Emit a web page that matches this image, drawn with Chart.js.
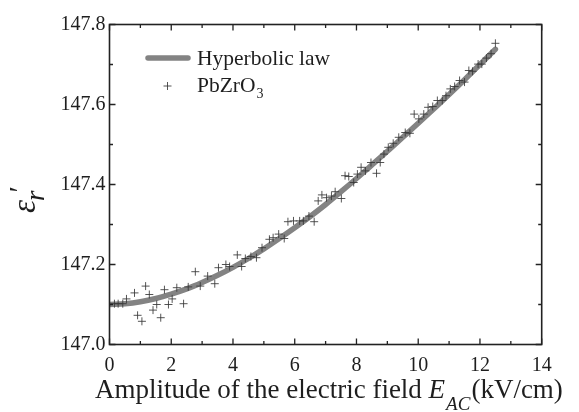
<!DOCTYPE html>
<html>
<head>
<meta charset="utf-8">
<script src="https://cdn.jsdelivr.net/npm/chart.js@4"></script>
<style>
  html, body { margin: 0; padding: 0; background: #fff; }
  #wrap { width: 579px; height: 412px; }
</style>
</head>
<body>
<div id="wrap"><canvas id="permChart" width="579" height="412"></canvas></div>
<script>
// fitted curve (hyperbolic law)
var fitField = [0, 0.5, 1, 1.5, 2, 2.5, 3, 3.5, 4, 4.5, 5, 5.5, 6, 6.5, 7, 7.5, 8, 8.5, 9, 9.5, 10, 10.5, 11, 11.5, 12, 12.5];
var fitEps = [147.100, 147.102, 147.107, 147.115, 147.126, 147.139, 147.155, 147.173, 147.193, 147.215, 147.239, 147.265, 147.292,
              147.320, 147.350, 147.382, 147.415, 147.449, 147.483, 147.518, 147.553, 147.589, 147.625, 147.662, 147.700, 147.738];

// measured PbZrO3 points
var measField = [0.16, 0.28, 0.43, 0.55, 0.81, 0.91, 1.05, 1.17, 1.29, 1.41, 1.53, 1.66, 1.78, 1.91, 2.03, 2.18, 2.40, 2.55, 2.78, 2.94,
                 3.18, 3.41, 3.53, 3.77, 3.89, 4.14, 4.28, 4.40, 4.58, 4.76, 4.94, 5.18, 5.30, 5.48, 5.66, 5.78, 5.96, 6.16, 6.28, 6.46,
                 6.63, 6.76, 6.88, 7.03, 7.19, 7.31, 7.51, 7.63, 7.75, 7.91, 8.03, 8.15, 8.29, 8.47, 8.65, 8.77, 8.89, 9.03, 9.19, 9.37,
                 9.58, 9.73, 9.87, 10.02, 10.18, 10.32, 10.47, 10.62, 10.78, 10.90, 11.04, 11.18, 11.34, 11.50, 11.64, 11.76, 11.94, 12.06,
                 12.21, 12.36, 12.50];
var measEps = [147.102, 147.102, 147.102, 147.114, 147.129, 147.073, 147.058, 147.146, 147.125, 147.086, 147.100, 147.067, 147.137, 147.100,
               147.114, 147.142, 147.102, 147.144, 147.182, 147.146, 147.171, 147.152, 147.192, 147.200, 147.195, 147.224, 147.195, 147.215,
               147.220, 147.217, 147.242, 147.263, 147.267, 147.276, 147.265, 147.307, 147.309, 147.309, 147.309, 147.321, 147.307, 147.359,
               147.374, 147.367, 147.371, 147.382, 147.365, 147.422, 147.420, 147.405, 147.426, 147.443, 147.434, 147.455, 147.428, 147.455,
               147.476, 147.493, 147.503, 147.518, 147.530, 147.528, 147.576, 147.564, 147.576, 147.593, 147.595, 147.610, 147.610, 147.622,
               147.639, 147.645, 147.660, 147.656, 147.685, 147.683, 147.701, 147.701, 147.716, 147.727, 147.753];

// axis ticks
var xTicks = [0, 2, 4, 6, 8, 10, 12, 14];
var xMinor = [1, 3, 5, 7, 9, 11, 13];
var yTicks = [147.0, 147.2, 147.4, 147.6, 147.8];
var yMinor = [147.1, 147.3, 147.5, 147.7];

var serif = '"Liberation Serif", "Times New Roman", serif';

function toPoints(xs, ys) {
  return xs.map(function (v, i) { return { x: v, y: ys[i] }; });
}

// box around the plot with inward ticks on all four sides
var framePlugin = {
  id: 'frame',
  afterDraw: function (chart) {
    var ctx = chart.ctx, a = chart.chartArea, x = chart.scales.x, y = chart.scales.y;
    ctx.save();
    ctx.strokeStyle = '#222';
    ctx.lineWidth = 1.6;
    ctx.strokeRect(a.left, a.top, a.right - a.left, a.bottom - a.top);
    ctx.lineWidth = 1.3;
    ctx.beginPath();
    function xt(v, len) {
      var px = x.getPixelForValue(v);
      ctx.moveTo(px, a.bottom); ctx.lineTo(px, a.bottom - len);
      ctx.moveTo(px, a.top); ctx.lineTo(px, a.top + len);
    }
    function yt(v, len) {
      var py = y.getPixelForValue(v);
      ctx.moveTo(a.left, py); ctx.lineTo(a.left + len, py);
      ctx.moveTo(a.right, py); ctx.lineTo(a.right - len, py);
    }
    xTicks.forEach(function (v) { xt(v, 6); });
    xMinor.forEach(function (v) { xt(v, 3.5); });
    yTicks.forEach(function (v) { yt(v, 6); });
    yMinor.forEach(function (v) { yt(v, 3.5); });
    ctx.stroke();
    ctx.restore();
  }
};

// axis titles and the legend, which need italics and subscripts
var labelPlugin = {
  id: 'labels',
  afterDraw: function (chart) {
    var ctx = chart.ctx;
    var ds = chart.data.datasets;
    ctx.save();
    ctx.fillStyle = '#1e1e1e';
    ctx.textBaseline = 'alphabetic';
    ctx.textAlign = 'left';

    // x title
    var px = 95, base = 398;
    ctx.font = '27px ' + serif;
    var t1 = 'Amplitude of the electric field ';
    ctx.fillText(t1, px, base); px += ctx.measureText(t1).width;
    ctx.font = 'italic 27px ' + serif;
    ctx.fillText('E', px, base); px += ctx.measureText('E').width + 1;
    ctx.font = 'italic 19px ' + serif;
    ctx.fillText('AC', px, base + 12); px += ctx.measureText('AC').width + 1;
    ctx.font = '27px ' + serif;
    ctx.fillText('(kV/cm)', px, base);

    // y title, rotated
    ctx.save();
    ctx.translate(35, 213);
    ctx.rotate(-Math.PI / 2);
    ctx.font = 'italic 33px ' + serif;
    ctx.fillText('\u03b5', 0, 0);
    var w = ctx.measureText('\u03b5').width;
    ctx.font = 'italic 27px ' + serif;
    ctx.fillText('r', w - 1, 9);
    var wr = ctx.measureText('r').width;
    ctx.font = '30px ' + serif;
    ctx.fillText('\u2032', w + wr - 3, -6);
    ctx.restore();

    // legend
    ctx.strokeStyle = ds[0].borderColor;
    ctx.lineWidth = ds[0].borderWidth;
    ctx.lineCap = 'round';
    ctx.beginPath();
    ctx.moveTo(148, 58); ctx.lineTo(188, 58);
    ctx.stroke();
    ctx.font = '21.5px ' + serif;
    ctx.fillText('Hyperbolic law', 197, 65);

    ctx.strokeStyle = ds[1].borderColor;
    ctx.lineWidth = 1;
    ctx.lineCap = 'butt';
    ctx.beginPath();
    ctx.moveTo(163.5, 86); ctx.lineTo(171.5, 86);
    ctx.moveTo(167.5, 82); ctx.lineTo(167.5, 90);
    ctx.stroke();
    ctx.font = '21.5px ' + serif;
    ctx.fillText('PbZrO', 197, 92);
    var wp = ctx.measureText('PbZrO').width;
    ctx.font = '14px ' + serif;
    ctx.fillText('3', 197 + wp + 1, 98);
    ctx.restore();
  }
};

var ctx = document.getElementById('permChart').getContext('2d');
var permChart = new Chart(ctx, {
  type: 'scatter',
  data: {
    datasets: [{
      label: 'Hyperbolic law',
      data: toPoints(fitField, fitEps),
      showLine: true,
      borderColor: '#838383',
      borderWidth: 5.5,
      pointRadius: 0,
      tension: 0.4,
      cubicInterpolationMode: 'monotone',
      borderCapStyle: 'round',
      order: 2
    }, {
      label: 'PbZrO3',
      data: toPoints(measField, measEps),
      pointStyle: 'cross',
      pointRadius: 4,
      borderWidth: 1,
      borderColor: 'rgba(55,55,55,0.85)',
      backgroundColor: 'rgba(55,55,55,0.85)',
      order: 1
    }]
  },
  options: {
    responsive: false,
    animation: false,
    layout: { padding: { left: 0, top: 24.5, right: 37.3, bottom: 0 } },
    plugins: {
      legend: { display: false },
      tooltip: { enabled: false }
    },
    scales: {
      x: {
        type: 'linear',
        min: 0,
        max: 14,
        afterBuildTicks: function (s) { s.ticks = xTicks.map(function (v) { return { value: v }; }); },
        afterFit: function (s) { s.height = 67.5; },
        grid: { display: false, drawTicks: false },
        border: { display: false },
        ticks: {
          padding: 9,
          color: '#1e1e1e',
          font: { family: serif, size: 20 },
          maxRotation: 0
        }
      },
      y: {
        type: 'linear',
        min: 147.0,
        max: 147.8,
        afterBuildTicks: function (s) { s.ticks = yTicks.map(function (v) { return { value: v }; }); },
        afterFit: function (s) { s.width = 109.5; },
        grid: { display: false, drawTicks: false },
        border: { display: false },
        ticks: {
          padding: 4,
          color: '#1e1e1e',
          font: { family: serif, size: 20 },
          callback: function (v) { return Number(v).toFixed(1); }
        }
      }
    }
  },
  plugins: [framePlugin, labelPlugin]
});
</script>
</body>
</html>
